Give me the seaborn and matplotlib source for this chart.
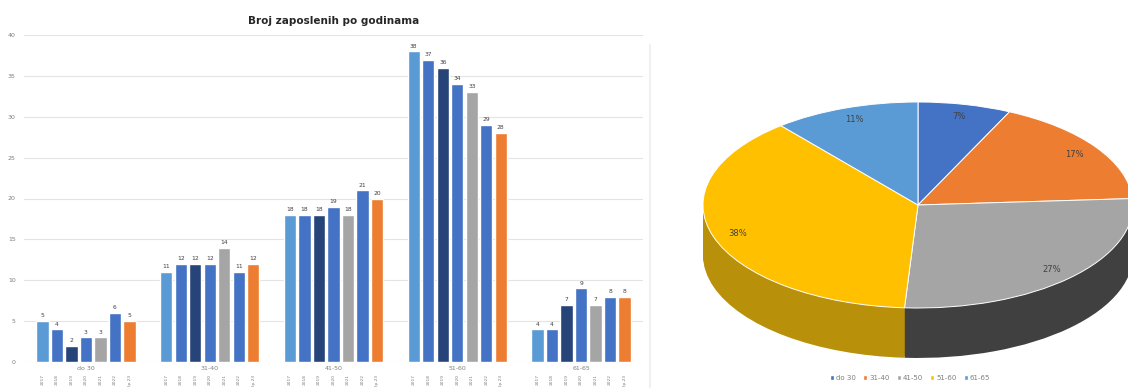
import matplotlib
matplotlib.use('Agg')
import numpy as np
import pandas as pd
import seaborn as sns
import matplotlib.pyplot as plt
from matplotlib.patches import Patch
from matplotlib.lines import Line2D


# dobne skupine i godine
grupe = ['do 30', '31-40', '41-50', '51-60', '61-65']
godine = ['2017', '2018', '2019', '2020', '2021', '2022', 'lip.23']

# broj zaposlenih po godini (redom po dobnim skupinama)
g2017 = [5, 11, 18, 38, 4]
g2018 = [4, 12, 18, 37, 4]
g2019 = [2, 12, 18, 36, 7]
g2020 = [3, 12, 19, 34, 9]
g2021 = [3, 14, 18, 33, 7]
g2022 = [6, 11, 21, 29, 8]
g2023 = [5, 12, 20, 28, 8]

boje_godina = ['#5B9BD5', '#4472C4', '#264478', '#4472C4', '#A5A5A5', '#4472C4', '#ED7D31']

# udjeli za pie (zadnje stanje)
udjeli = [7, 17, 27, 38, 11]
boje_pie = ['#4472C4', '#ED7D31', '#A5A5A5', '#FFC000', '#5B9BD5']
boje_bok = ['#2F5597', '#C55A11', '#404040', '#B8900A', '#2E75B6']

sns.set_theme(style='white')
plt.rcParams['font.family'] = ['DejaVu Sans']

W, H = 1128, 388
fig = plt.figure(figsize=(W / 100, H / 100), dpi=100)

# ---------------- stupci ----------------
redovi = []
for god, vrijednosti in zip(godine, [g2017, g2018, g2019, g2020, g2021, g2022, g2023]):
    for grp, v in zip(grupe, vrijednosti):
        redovi.append({'grupa': grp, 'godina': god, 'broj': v})
df = pd.DataFrame(redovi)

ax = fig.add_axes([24 / W, 26 / H, 619 / W, 327 / H])
sns.barplot(data=df, x='grupa', y='broj', hue='godina', palette=boje_godina,
            width=0.82, gap=0.15, saturation=1, legend=False, ax=ax)
ax.set_ylim(0, 40)
ax.set_yticks(range(0, 41, 5))
ax.set_xlim(-0.5, 4.5)
ax.set_xlabel('')
ax.set_ylabel('')
ax.yaxis.grid(True, color='#E4E4E4', linewidth=0.8)
ax.set_axisbelow(True)
for s in ax.spines.values():
    s.set_visible(False)
ax.tick_params(axis='y', labelsize=4.5, colors='#7F7F7F', length=0, pad=6)
ax.tick_params(axis='x', labelsize=4.5, colors='#7F7F7F', length=0, pad=3)
ax.set_title('Broj zaposlenih po godinama', fontsize=7.5, fontweight='bold',
             color='#262626', pad=8)

for cont, god in zip(ax.containers, godine):
    ax.bar_label(cont, fontsize=4.3, color='#404040', padding=2)
    for b in cont:
        ax.text(b.get_x() + b.get_width() / 2, -0.036, god, rotation=90,
                ha='center', va='top', fontsize=3.2, color='#7F7F7F',
                transform=ax.get_xaxis_transform())

fig.add_artist(Line2D([650 / W, 650 / W], [0, 1 - 45 / H], color='#F0F0F0', lw=1.5))

# ---------------- 3D pie ----------------
ax2 = fig.add_axes([660 / W, 0, 468 / W, 1])
dubina = 0.485
n = 30
for k in range(n, 0, -1):
    ax2.pie(udjeli, colors=boje_bok, startangle=90, counterclock=False,
            center=(0, -dubina * k / n), wedgeprops=dict(linewidth=0))
ax2.pie(udjeli, colors=boje_pie, startangle=90, counterclock=False,
        autopct=lambda p: f'{p:.0f}%', pctdistance=0.88,
        wedgeprops=dict(edgecolor='white', linewidth=0.7),
        textprops=dict(color='#404040', fontsize=6))
ax2.set_aspect('auto')
ax2.set_xlim((660 - 918) / 215, (1128 - 918) / 215)
ax2.set_ylim(-183 / 103, (388 - 183) / 103)

rucke = [Patch(facecolor=c) for c in boje_pie]
fig.legend(rucke, grupe, ncol=5, loc='center', bbox_to_anchor=(910 / W, 10 / H),
           fontsize=5, frameon=False, handlelength=0.6, handleheight=0.6,
           columnspacing=1.0, handletextpad=0.3, labelcolor='#7F7F7F')

fig.savefig('out.png', dpi=100)
